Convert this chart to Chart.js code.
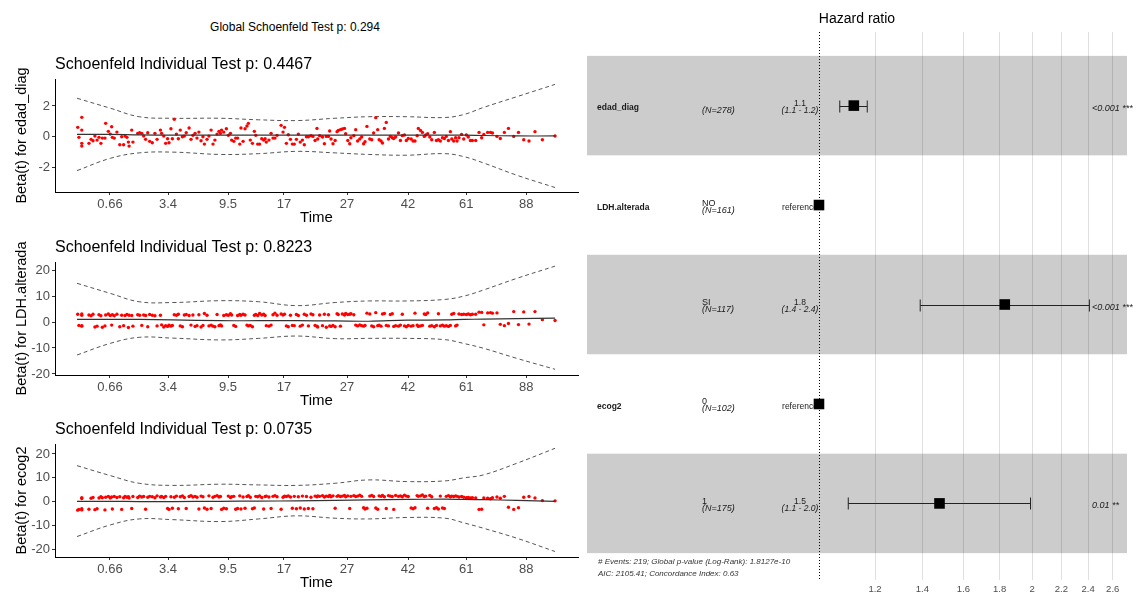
<!DOCTYPE html>
<html lang="en">
<head>
<meta charset="UTF-8">
<title>Schoenfeld residuals and hazard ratios</title>
<script src="https://cdn.jsdelivr.net/npm/chart.js"></script>
<style>
  body { margin: 0; width: 1137px; height: 594px; overflow: hidden; background: #fff;
         font-family: "Liberation Sans", Arial, sans-serif; }
  canvas { position: absolute; }
  #globalTitle { position: absolute; left: 0; width: 590px; top: 20px; line-height: 14px;
                 text-align: center; font-size: 12px; color: #000; }
</style>
</head>
<body>
<div id="globalTitle">Global Schoenfeld Test p: 0.294</div>
<canvas id="p1" width="580" height="182" style="left:0;top:50px"></canvas>
<canvas id="p2" width="580" height="182" style="left:0;top:233px"></canvas>
<canvas id="p3" width="580" height="179" style="left:0;top:415px"></canvas>
<canvas id="forest" width="550" height="594" style="left:587px;top:0"></canvas>

<script>
// ---- Schoenfeld residuals (x = transformed event time, same for all three panels)
const eventTime = [0.3,0.8,2,2,2,2,5,5.9,6.7,7.5,8.4,9.2,10,10.6,11.7,12,13.1,13.9,14.5,14.8,
  15.6,16.7,17.9,18.7,19.5,20.1,20.9,21.5,21.8,22.9,23.4,25.4,26.2,27.1,27.9,28.7,29.6,30.4,31.5,32.6,
  33.5,34.9,35.4,36.3,37.1,37.9,38.5,39.3,39.9,40.7,41.6,42.4,43.2,44.1,44.9,45.7,46.9,47.7,48.5,49.4,
  50.2,51,51.9,52.7,53.3,54.4,55.2,56.1,56.9,57.7,58.6,59.4,60,60.5,61.4,62.5,63.3,64.2,64.7,65.6,
  66.4,67.2,68.1,68.6,69.5,70.3,71.1,71.7,72.5,73.4,74.2,74.8,75.6,76.4,77.3,78.1,78.7,79.2,80.3,81.2,
  82,82.8,83.7,85.4,86.2,86.8,87.6,88.4,89.3,90.1,90.9,91.8,92.6,93.4,94.3,95.1,96,96.8,
  97.9,98.7,99.6,100.4,100.7,101.5,102.7,103.5,104.3,105.2,105.7,106.3,107.1,108,108.8,109.3,110.2,111,111.9,112.4,
  113.3,114.1,114.6,115.8,116.6,117.4,118.3,119.1,119.9,120.5,121.3,122.5,123.3,124.1,125,125.8,126.4,127.2,127.8,128.6,
  129.4,130.3,131.1,131.9,132.5,133.3,134.5,135.3,136.1,137,137.8,138.6,139.8,140.6,141.4,142.3,142.8,143.7,144.5,145.3,
  145.9,146.7,147.6,148.4,149.5,150.4,151.2,152,152.9,153.7,154.5,155.4,156.2,156.8,157.6,158.4,159,159.8,160.9,161.8,
  162.9,163.7,164.6,165.4,166.8,168.2,169.3,170.2,171.8,173,173.8,175.7,177.1,178.8,180.5,182.7,184.7,186.9,189.1,191.6,
  194.7,200];

const betaEdad = [0.61,-0.04,1.26,0.43,-0.43,-0.61,-0.43,-0.17,-0.26,0.04,
  -0.22,-0.04,-0.43,-0.09,-0.09,0.87,0.35,0.17,0.65,-0.04,
  -0.09,0.3,-0.52,0,-0.52,0.04,-0.04,-0.35,-0.61,0.43,
  -0.35,0.22,0.26,0.22,0.04,-0.17,0.26,-0.3,-0.39,0.22,
  -0.17,0.43,0.22,0.04,-0.43,-0.13,-0.39,0.52,-0.13,1.13,
  0.17,-0.13,0.43,0,0.04,0.26,0.57,-0.17,0.09,0.22,
  -0.09,0.3,-0.26,0,-0.48,-0.17,0.04,0.43,-0.48,-0.22,
  0.17,0.35,0.22,0.43,0.3,0.52,0.09,0.22,-0.22,-0.3,
  -0.09,-0.09,-0.48,0.57,-0.3,0.52,0.7,0.87,-0.22,-0.43,
  0.35,0.09,-0.48,-0.48,-0.13,-0.22,-0.13,-0.35,-0.22,0.22,
  -0.09,-0.09,0.09,0.74,0.3,0.61,-0.43,0.13,-0.17,-0.48,
  -0.48,-0.17,0.17,-0.35,-0.22,-0.52,0,0,
  0.07,0.02,-0.24,0.54,-0.15,0.07,-0.02,-0.46,0.02,0.02,
  0.37,-0.15,-0.46,-0.24,0.33,0.41,0.46,0.5,0.54,0.2,
  -0.24,-0.46,-0.07,0.07,0.46,-0.28,-0.15,-0.02,-0.46,-0.33,
  0.67,-0.15,-0.2,0.24,1.24,0.46,-0.2,-0.28,-0.41,0.54,
  0.93,-0.15,0.02,-0.07,-0.11,-0.02,0.24,-0.24,0.07,0.11,
  -0.24,-0.11,-0.15,-0.28,-0.28,0.07,0.54,0.41,0.28,0.02,
  0.11,0.2,-0.02,-0.2,0.28,-0.24,-0.2,-0.28,-0.07,-0.11,
  0.02,-0.24,0.33,-0.15,-0.28,-0.07,-0.28,-0.07,0.15,-0.15,
  0.11,-0.02,-0.24,-0.24,-0.24,0.28,-0.07,0.15,0.28,0.28,
  0.24,0.02,-0.11,0.28,0.54,0.02,0.28,-0.2,-0.28,0.33,
  -0.2,0.05];

const betaLDH = [3.0,-1.3,2.6,-1.4,3.1,-1.6,2.7,2.4,3.0,-1.9,
  -1.6,2.8,2.4,-2.0,-1.5,2.7,3.1,2.5,-1.2,2.8,
  2.4,3.0,-1.8,2.6,-1.4,2.5,2.9,-2.1,2.6,2.5,
  -1.6,2.8,2.6,-1.3,2.7,2.5,-1.8,2.9,2.6,2.4,
  -1.5,2.6,-1.1,-1.9,-1.4,-1.7,-1.2,-1.6,-1.3,2.8,
  2.6,3.0,-1.5,-1.8,2.7,2.9,2.5,-1.2,2.7,-1.7,
  -1.4,2.8,-1.9,-1.3,3.3,2.6,-1.5,-1.2,-1.6,-1.8,
  2.9,-1.4,-1.1,-1.5,2.5,2.8,2.6,3.2,2.7,-1.3,
  -1.7,2.5,2.9,2.6,3.0,2.7,-1.2,-1.5,-1.3,-1.8,
  2.6,2.9,2.5,3.3,2.7,3.0,2.5,-1.4,-1.6,-1.2,
  2.8,3.4,2.6,3.1,2.7,3.0,-1.5,-1.8,2.6,-1.3,
  -1.4,2.9,2.5,-1.6,-1.2,3.0,2.6,-1.5,3.1,2.8,
  -1.3,-1.6,-1.9,2.7,-1.4,3.0,-2.0,2.8,-1.5,-1.7,
  -1.3,-1.8,3.2,2.9,-1.6,3.1,2.7,3.3,2.9,3.0,
  3.2,2.8,-1.2,-1.5,-1.1,-1.4,-1.6,-1.3,3.4,3.1,
  -1.5,-1.8,3.6,-1.4,-1.2,-1.6,3.1,3.3,-1.3,-1.5,
  2.9,3.2,-1.7,-1.4,-1.6,-1.2,3.0,-1.5,-1.8,-1.3,
  -1.6,-1.4,3.4,-1.2,-1.7,-1.5,-1.3,3.1,2.9,3.5,
  -1.6,-1.4,-1.8,-1.3,3.2,-1.5,-1.2,-1.6,-1.4,-1.7,
  -1.3,3.0,3.3,-1.5,-1.2,3.1,2.9,3.0,2.9,3.1,
  2.8,3.0,3.0,3.8,3.7,-1.1,3.5,3.6,3.4,3.5,
  -0.9,-1.4,-0.6,4.0,-1.0,3.9,-0.8,4.0,0.9,0.6];

const betaEcog = [-3.6,-3.3,1.3,-3.0,1.6,-3.5,-3.2,1.4,1.7,-3.4,
  -3.0,1.5,2.0,1.6,-3.5,1.8,2.2,1.5,1.9,-3.1,
  2.1,1.7,2.0,-3.3,1.6,2.2,1.8,2.0,1.5,-2.9,
  2.1,1.7,2.3,1.9,2.1,-3.2,1.8,2.2,2.0,1.6,
  2.4,1.9,2.1,1.7,2.2,-2.9,-3.3,2.0,-2.8,1.8,
  2.3,-3.0,2.0,2.4,1.7,-2.9,2.1,2.5,1.9,2.2,
  1.8,-3.1,2.3,2.0,-2.7,-3.2,2.4,-2.9,1.8,2.2,
  2.5,1.9,2.1,-3.3,-2.8,-3.0,2.3,1.7,2.0,2.2,
  -3.2,-2.9,2.4,-3.1,1.9,-2.8,2.1,2.5,1.8,-3.0,
  -2.7,2.2,2.0,2.4,1.7,-3.1,2.1,2.3,1.9,-2.9,
  2.2,2.5,2.0,-3.2,1.8,2.3,2.1,2.4,1.9,-2.8,
  2.2,-3.0,2.0,-2.7,2.3,-3.1,2.1,-2.9,1.8,-3.0,
  2.3,2.0,2.4,2.2,2.5,1.9,2.3,2.1,2.6,2.0,
  2.4,-2.8,2.2,2.5,2.1,2.3,2.6,2.0,2.4,-2.9,
  2.2,2.5,2.1,2.3,2.7,2.2,-2.6,-3.1,-2.8,2.3,
  2.6,2.1,-2.7,-3.2,2.4,2.2,2.6,2.0,-2.9,2.5,
  2.3,2.1,-3.3,2.6,2.2,2.4,2.0,2.7,2.3,2.1,
  -2.7,-3.0,-2.6,2.5,2.2,2.4,2.8,2.1,2.3,-2.8,
  2.6,2.0,-2.9,-2.6,-3.1,2.3,-2.7,-2.9,2.2,2.5,
  2.0,2.3,2.1,2.4,2.2,1.9,2.1,1.8,1.6,1.7,
  1.5,1.6,1.5,-3.3,-3.2,1.5,1.4,1.2,1.6,1.9,
  1.4,2.2,-2.4,-3.3,-2.6,1.8,2.1,1.5,0.4,0.3];

// smoothed beta(t) and its +/- 2 se band
const smoothTime = [0, 14, 26, 40, 60, 76, 92, 108, 122, 138, 154, 162, 170, 184, 200];
const fitEdad   = [0.15, 0.15, 0.12, 0.1, 0.1, 0.1, 0.1, 0.1, 0.1, 0.1, 0.1, 0.1, 0.08, 0.05, 0.05];
const upperEdad = [2.5, 1.85, 1.3, 1.2, 1.2, 1.1, 1.05, 1.2, 1.3, 1.3, 1.25, 1.45, 1.9, 2.6, 3.4];
const lowerEdad = [-2.2, -1.4, -1.05, -1.0, -1.15, -1.1, -0.95, -1.05, -1.15, -1.2, -1.1, -1.3, -1.7, -2.5, -3.3];
const fitLDH    = [1.0, 1.0, 1.0, 0.8, 0.5, 0.5, 0.5, 0.4, 0.3, 0.7, 0.8, 1.0, 1.1, 1.3, 1.5];
const upperLDH  = [14.9, 11, 7.8, 7.5, 8.2, 7.8, 6.3, 7.5, 8.1, 8.1, 8.7, 10, 12.3, 16.8, 21.5];
const lowerLDH  = [-12.7, -8.2, -5.9, -6.2, -6.9, -6.3, -5.4, -6.4, -6.3, -6.3, -6.8, -8.3, -10.1, -14, -18.2];
const fitEcog   = [0.1, 0.1, 0.0, 0.0, 0.1, 0.2, 0.3, 0.5, 0.7, 0.9, 1.0, 0.9, 0.8, 0.5, 0.1];
const upperEcog = [15.1, 10.9, 7.7, 6.8, 7.3, 7.0, 6.8, 7.7, 9.1, 8.4, 8.7, 10, 11.2, 16.1, 22.4];
const lowerEcog = [-14.7, -9.8, -7.3, -7.6, -8.4, -7.3, -6.0, -7.0, -7.3, -6.7, -7.0, -9, -11.2, -15.4, -21];

const timeTickPos = [13.8, 38.1, 63.2, 86.6, 113, 138.5, 162.8, 187.9];
const timeTickLabels = ['0.66', '3.4', '9.5', '17', '27', '42', '61', '88'];

// ---- forest plot
const hrTerms    = ['edad_diag', 'LDH.alterada', '', 'ecog2', ''];
const hrLevels   = ['', 'NO', 'SI', '0', '1'];
const hrN        = ['(N=278)', '(N=161)', '(N=117)', '(N=102)', '(N=175)'];
const hrEstimate = [1.12, 1, 1.83, 1, 1.48];
const hrLow      = [1.07, null, 1.39, null, 1.10];
const hrHigh     = [1.17, null, 2.41, null, 1.99];
const hrEstLabel = ['1.1', 'reference', '1.8', 'reference', '1.5'];
const hrCiLabel  = ['(1.1 - 1.2)', '', '(1.4 - 2.4)', '', '(1.1 - 2.0)'];
const hrPLabel   = ['<0.001 ***', '', '<0.001 ***', '', '0.01 **'];
const hrTicks    = [1.2, 1.4, 1.6, 1.8, 2, 2.2, 2.4, 2.6];
const footnote   = ['# Events: 219; Global p-value (Log-Rank): 1.8127e-10',
                    'AIC: 2105.41; Concordance Index: 0.63'];

const FONT = '"Liberation Sans", Arial, sans-serif';
Chart.defaults.font.family = FONT;

// titles drawn by hand so they line up with the plot area like ggplot does
const panelText = {
  id: 'panelText',
  afterDraw(chart, args, opts) {
    const {ctx, chartArea: a} = chart;
    ctx.save();
    ctx.fillStyle = '#000';
    ctx.textBaseline = 'middle';
    ctx.textAlign = 'left';
    ctx.font = '16px ' + FONT;
    ctx.fillText(opts.title, a.left, a.top - 14);
    ctx.textAlign = 'center';
    ctx.font = '15px ' + FONT;
    ctx.fillText('Time', (a.left + a.right) / 2, a.bottom + 26);
    ctx.translate(22, (a.top + a.bottom) / 2);
    ctx.rotate(-Math.PI / 2);
    ctx.font = '14.5px ' + FONT;
    ctx.fillText(opts.yTitle, 0, 0);
    ctx.restore();
  }
};

function schoenfeldPanel(id, beta, fit, upper, lower, yMin, yMax, yTicks, title, yTitle, axisH) {
  const curve = arr => smoothTime.map((t, i) => ({x: t, y: arr[i]}));
  const band = arr => ({ data: curve(arr), showLine: true, borderColor: '#555', borderWidth: 1,
                         borderDash: [4, 3], pointRadius: 0, tension: 0.4 });
  new Chart(document.getElementById(id), {
    type: 'scatter',
    data: {
      datasets: [
        { data: curve(fit), showLine: true, borderColor: '#333', borderWidth: 1.2, pointRadius: 0, tension: 0.4 },
        { data: eventTime.map((t, i) => ({x: t, y: beta[i]})), pointRadius: 1.7,
          backgroundColor: '#ff0000', borderWidth: 0 },
        band(upper),
        band(lower)
      ]
    },
    options: {
      responsive: false,
      animation: false,
      events: [],
      layout: { autoPadding: false, padding: { top: 29, right: 2, left: 0, bottom: 0 } },
      plugins: { legend: { display: false }, tooltip: { enabled: false },
                 panelText: { title: title, yTitle: yTitle } },
      scales: {
        x: {
          type: 'linear', min: -9.2, max: 209.6, bounds: 'data',
          afterBuildTicks: s => { s.ticks = timeTickPos.map(v => ({value: v})); },
          afterFit: s => { s.height = axisH; },
          ticks: { callback: (v, i) => timeTickLabels[i], font: { size: 13 }, color: '#4d4d4d',
                   padding: 2, autoSkip: false, maxRotation: 0 },
          grid: { drawOnChartArea: false, drawTicks: true, tickLength: 3, color: '#333' },
          border: { display: true, color: '#000', width: 1 }
        },
        y: {
          type: 'linear', min: yMin, max: yMax, bounds: 'data',
          afterBuildTicks: s => { s.ticks = yTicks.map(v => ({value: v})); },
          afterFit: s => { s.width = 55; },
          ticks: { font: { size: 13 }, color: '#4d4d4d', padding: 2 },
          grid: { drawOnChartArea: false, drawTicks: true, tickLength: 3, color: '#333' },
          border: { display: true, color: '#000', width: 1 }
        }
      }
    },
    plugins: [panelText]
  });
}

schoenfeldPanel('p1', betaEdad, fitEdad, upperEdad, lowerEdad, -3.59, 3.75, [-2, 0, 2],
  'Schoenfeld Individual Test p: 0.4467', 'Beta(t) for edad_diag', 40);
schoenfeldPanel('p2', betaLDH, fitLDH, upperLDH, lowerLDH, -20.4, 23.1, [-20, -10, 0, 10, 20],
  'Schoenfeld Individual Test p: 0.8223', 'Beta(t) for LDH.alterada', 40);
schoenfeldPanel('p3', betaEcog, fitEcog, upperEcog, lowerEcog, -23.3, 24.2, [-20, -10, 0, 10, 20],
  'Schoenfeld Individual Test p: 0.0735', 'Beta(t) for ecog2', 37);

// ---- forest plot pieces
const forestBands = {
  id: 'forestBands',
  beforeDraw(chart) {
    const {ctx, chartArea: a, scales: {y}} = chart;
    ctx.save();
    ctx.fillStyle = '#cccccc';
    [0, 2, 4].forEach(i => {
      const y0 = y.getPixelForValue(i - 0.5), y1 = y.getPixelForValue(i + 0.5);
      ctx.fillRect(a.left, y0, a.right - a.left, y1 - y0);
    });
    ctx.restore();
  }
};

const forestMarks = {
  id: 'forestMarks',
  beforeDatasetsDraw(chart) {
    const {ctx, chartArea: a, scales: {x, y}} = chart;
    ctx.save();
    // reference line at HR = 1
    const x1 = Math.round(x.getPixelForValue(1)) + 0.5;
    ctx.strokeStyle = '#000';
    ctx.lineWidth = 1;
    ctx.setLineDash([1, 2]);
    ctx.beginPath(); ctx.moveTo(x1, a.top); ctx.lineTo(x1, a.bottom); ctx.stroke();
    ctx.setLineDash([]);
    // confidence intervals
    ctx.strokeStyle = '#222';
    hrEstimate.forEach((v, i) => {
      if (hrLow[i] == null) return;
      const yy = Math.round(y.getPixelForValue(i)) + 0.5;
      const xa = x.getPixelForValue(hrLow[i]), xb = x.getPixelForValue(hrHigh[i]);
      ctx.beginPath();
      ctx.moveTo(xa, yy); ctx.lineTo(xb, yy);
      ctx.moveTo(xa, yy - 6); ctx.lineTo(xa, yy + 6);
      ctx.moveTo(xb, yy - 6); ctx.lineTo(xb, yy + 6);
      ctx.stroke();
    });
    // text columns
    ctx.fillStyle = '#1a1a1a';
    ctx.textBaseline = 'middle';
    hrTerms.forEach((t, i) => {
      const yc = y.getPixelForValue(i);
      ctx.textAlign = 'left';
      ctx.font = 'bold 8.5px ' + FONT;
      if (t) ctx.fillText(t, a.left + 10, yc + 2.5);
      ctx.font = '9px ' + FONT;
      if (hrLevels[i]) ctx.fillText(hrLevels[i], a.left + 115, yc - 2);
      ctx.font = 'italic 9px ' + FONT;
      ctx.fillText(hrN[i], a.left + 115, yc + 5);
      if (hrPLabel[i]) ctx.fillText(hrPLabel[i], a.left + 505, yc + 2.5);
      ctx.textAlign = 'center';
      if (hrCiLabel[i]) {
        ctx.font = '8.5px ' + FONT;
        ctx.fillText(hrEstLabel[i], a.left + 213, yc - 2);
        ctx.font = 'italic 8.5px ' + FONT;
        ctx.fillText(hrCiLabel[i], a.left + 213, yc + 5.5);
      } else {
        ctx.font = '8.5px ' + FONT;
        ctx.fillText(hrEstLabel[i], a.left + 213, yc + 2.5);
      }
    });
    ctx.restore();
  },
  afterDraw(chart) {
    const {ctx, chartArea: a} = chart;
    ctx.save();
    ctx.fillStyle = '#000';
    ctx.textBaseline = 'middle';
    ctx.textAlign = 'center';
    ctx.font = '14px ' + FONT;
    ctx.fillText('Hazard ratio', (a.left + a.right) / 2, 19);
    ctx.textAlign = 'left';
    ctx.fillStyle = '#333';
    ctx.font = 'italic 8px ' + FONT;
    ctx.fillText(footnote[0], a.left + 11, a.bottom - 18);
    ctx.fillText(footnote[1], a.left + 11, a.bottom - 6);
    ctx.restore();
  }
};

new Chart(document.getElementById('forest'), {
  type: 'scatter',
  data: {
    datasets: [{
      data: hrEstimate.map((v, i) => ({x: v, y: i})),
      pointStyle: 'rect', pointRadius: 7.5, backgroundColor: '#000', borderWidth: 0
    }]
  },
  options: {
    responsive: false,
    animation: false,
    events: [],
    layout: { autoPadding: false, padding: { top: 32, right: 10, left: 0, bottom: 0 } },
    plugins: { legend: { display: false }, tooltip: { enabled: false } },
    scales: {
      x: {
        type: 'logarithmic', min: 0.4702, max: 2.7236, bounds: 'data',
        afterBuildTicks: s => { s.ticks = hrTicks.map(v => ({value: v})); },
        afterFit: s => { s.height = 14; },
        ticks: { callback: v => String(v), font: { size: 9.5 }, color: '#4d4d4d', padding: 4,
                 autoSkip: false, maxRotation: 0 },
        grid: { color: 'rgba(0,0,0,0.12)', drawTicks: false },
        border: { display: false }
      },
      y: { type: 'linear', display: false, min: -0.74, max: 4.77, reverse: true }
    }
  },
  plugins: [forestBands, forestMarks]
});
</script>
</body>
</html>
